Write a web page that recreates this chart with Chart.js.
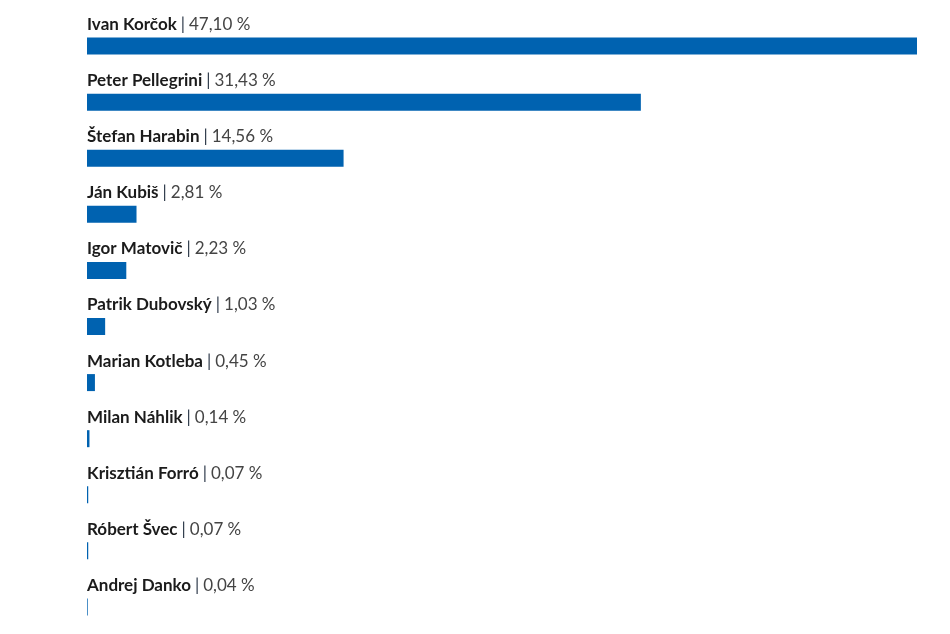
<!DOCTYPE html>
<html>
<head>
<meta charset="utf-8">
<script src="https://cdn.jsdelivr.net/npm/chart.js@4"></script>
<style>
  html, body { margin: 0; padding: 0; background: #fff; overflow: hidden; }
  #wrap { width: 950px; height: 636px; }
</style>
</head>
<body>
<div id="wrap"><canvas id="myChart"></canvas></div>
<script>
// candidates and their share of the vote (%)
const candidates = ['Ivan Korčok', 'Peter Pellegrini', 'Štefan Harabin', 'Ján Kubiš', 'Igor Matovič',
    'Patrik Dubovský', 'Marian Kotleba', 'Milan Náhlik', 'Krisztián Forró', 'Róbert Švec', 'Andrej Danko'];
const shares = [47.10, 31.43, 14.56, 2.81, 2.23, 1.03, 0.45, 0.14, 0.07, 0.07, 0.04];
const valueLabels = shares.map(v => v.toFixed(2).replace('.', ',') + ' %');

document.addEventListener("DOMContentLoaded", () => {
    const ctx = document.getElementById('myChart').getContext('2d');

    // draws "Name | value %" above each bar
    const labelPlugin = {
        id: 'labelsAbove',
        afterDatasetsDraw: (chart) => {
            const c = chart.ctx;
            const meta = chart.getDatasetMeta(0);
            const left = chart.chartArea.left;
            c.save();
            c.textBaseline = 'middle';
            meta.data.forEach((bar, i) => {
                const y = bar.y - 21.5;
                let x = left;
                c.font = 'bold 17px Lato';
                c.fillStyle = '#1b1b1b';
                c.fillText(candidates[i], x, y);
                x += c.measureText(candidates[i]).width + 4;
                c.font = '17px Lato';
                c.fillStyle = '#2e3a4a';
                c.fillText('|', x, y);
                x += c.measureText('|').width + 4;
                c.fillStyle = '#444';
                c.fillText(valueLabels[i], x, y);
            });
            c.restore();
        }
    };

    const myChart = new Chart(ctx, {
        type: 'bar',
        data: {
            labels: candidates,
            datasets: [{
                data: shares,
                backgroundColor: '#0062b0',
                barThickness: 17,
                inflateAmount: 0,
                borderSkipped: false
            }]
        },
        options: {
            indexAxis: 'y',
            responsive: true,
            maintainAspectRatio: false,
            animation: false,
            layout: { padding: { left: 87, right: 33, top: 18, bottom: 1 } },
            plugins: { legend: { display: false }, tooltip: { enabled: false } },
            scales: {
                x: { display: false, min: 0, max: 47.10 },
                y: { display: false }
            }
        },
        plugins: [labelPlugin]
    });
});
</script>
</body>
</html>
